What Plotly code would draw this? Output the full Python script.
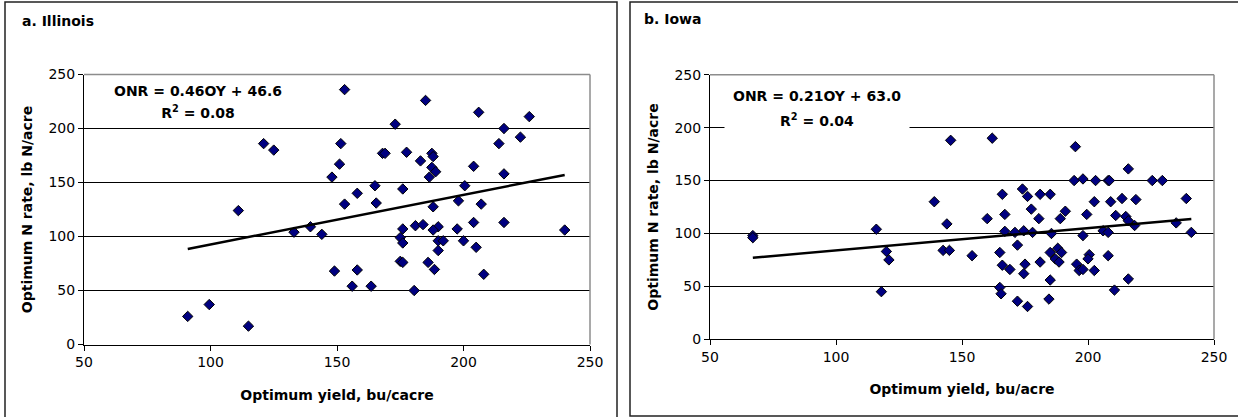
import plotly.graph_objects as go

# ---------------- data ----------------
IL_yield = [153, 121, 125, 151.5, 151, 148, 158, 153, 111, 133, 139.5, 144, 149, 158, 156, 91, 99.5, 115,
            185, 173, 206, 226, 216, 222.5, 214, 168, 169, 177.5, 187.5, 188, 183, 187.5, 189, 186.5, 204, 216,
            165, 176, 200.5, 165.5, 188, 198, 207, 176, 181, 184, 190, 188, 197.5, 204, 216, 240,
            175, 176, 190, 192, 190, 200, 205, 163.5, 175, 176, 186, 188.5, 180.5, 208]
IL_rate = [236, 186, 180, 186, 167, 155, 140, 130, 124, 104, 109, 102, 68, 69, 54, 26, 37, 17,
           226, 204, 215, 211, 200, 192, 186, 177, 177, 178, 177, 174, 170, 164, 160, 155, 165, 158,
           147, 144, 147, 131, 127.5, 133, 130, 107, 110, 111, 109, 106, 107, 113, 113, 106,
           99, 94, 96, 96, 87, 96, 90, 54, 77, 76, 76, 69.5, 50, 65]

IA_yield = [67, 67, 116, 120, 121, 118, 145.5, 139, 144, 142.5, 145, 162, 195, 216, 194.5, 198, 203, 208, 208.5, 225.5,
            229.5, 166, 174, 176, 181, 185, 202.5, 209, 213.5, 219, 239, 177.5, 167, 160, 180.5, 189, 191, 199.5, 211, 215,
            216, 218.5, 235, 241, 167, 171, 174.5, 178, 185.5, 198, 206, 208, 154, 165, 172, 166, 169, 175, 174.5, 181,
            185, 188, 189.5, 187, 188.5, 195.5, 196.5, 198, 200.5, 200, 202.5, 208, 185, 216, 165, 165.5, 172, 176, 184.5, 210.5]
IA_rate = [98, 96, 104, 83, 75, 45, 188, 130, 109, 84, 84, 190, 182, 161, 150, 151.5, 150, 150, 150, 150,
           150, 137, 142, 135, 137, 137, 130, 130, 133, 132, 133, 123, 118, 114, 114, 114, 121, 118, 117, 116,
           112, 107.5, 110, 101, 102, 101, 102.5, 101, 100, 98, 102.5, 101, 79, 82, 89, 70, 66, 71, 62, 73,
           82, 86, 82, 76, 73, 71, 65, 66, 80, 76, 65, 79, 56, 57, 49, 43, 36, 31, 38, 46.5]

IL_fit = (0.46, 46.6, 0.08)   # slope, intercept, R2
IA_fit = (0.21, 63.0, 0.04)

panel_titles = ["a. Illinois", "b. Iowa"]
x_titles = ["Optimum yield, bu/cacre", "Optimum yield, bu/acre"]
y_title = "Optimum N rate, lb N/acre"
tick_vals = [0, 50, 100, 150, 200, 250]
x_tick_vals = [50, 100, 150, 200, 250]

# ---------------- layout helpers ----------------
W, H = 1238, 417
FONT = "DejaVu Sans"


def fx(p):
    return p / W


def fy(p):
    return 1 - p / H


fig = go.Figure()

panels = [
    dict(xs="x", ys="y", data=(IL_yield, IL_rate), fit=IL_fit),
    dict(xs="x2", ys="y2", data=(IA_yield, IA_rate), fit=IA_fit),
]

for p in panels:
    xs, ys = p["data"]
    slope, icpt, r2 = p["fit"]
    fig.add_trace(go.Scatter(
        x=xs, y=ys, mode="markers", xaxis=p["xs"], yaxis=p["ys"],
        marker=dict(symbol="diamond", size=8, color="#000080", line=dict(color="black", width=1)),
        showlegend=False, hoverinfo="x+y"))
    x_line = [min(xs), max(xs)]
    y_line = [slope * v + icpt for v in x_line]
    fig.add_trace(go.Scatter(
        x=x_line, y=y_line, mode="lines", xaxis=p["xs"], yaxis=p["ys"],
        line=dict(color="black", width=2.5), showlegend=False, hoverinfo="skip"))

axis_common = dict(showline=True, linecolor="black", linewidth=1, ticks="outside", ticklen=5,
                   tickcolor="black", zeroline=False, automargin=False,
                   tickfont=dict(family=FONT, size=14, color="black"))

fig.update_layout(
    width=W, height=H, margin=dict(l=0, r=0, t=0, b=0, autoexpand=False),
    paper_bgcolor="white", plot_bgcolor="white",
    font=dict(family=FONT, color="black", size=14),
    xaxis=dict(domain=[fx(84), fx(590)], range=[50, 250], tickvals=x_tick_vals, showgrid=False,
               anchor="y",
               title=dict(text="<b>%s</b>" % x_titles[0], font=dict(family=FONT, size=14), standoff=20),
               **axis_common),
    yaxis=dict(domain=[fy(344.5), fy(74.5)], range=[0, 250], tickvals=tick_vals, showgrid=True,
               gridcolor="black", gridwidth=1, anchor="x",
               title=dict(text="<b>%s</b>" % y_title, font=dict(family=FONT, size=14), standoff=12),
               **axis_common),
    xaxis2=dict(domain=[fx(710), fx(1214)], range=[50, 250], tickvals=x_tick_vals, showgrid=False,
                anchor="y2",
                title=dict(text="<b>%s</b>" % x_titles[1], font=dict(family=FONT, size=14), standoff=20),
                **axis_common),
    yaxis2=dict(domain=[fy(339.3), fy(74.7)], range=[0, 250], tickvals=tick_vals, showgrid=True,
                gridcolor="black", gridwidth=1, anchor="x2",
                title=dict(text="<b>%s</b>" % y_title, font=dict(family=FONT, size=14), standoff=12),
                **axis_common),
)

shapes = []
# panel frames
shapes.append(dict(type="rect", xref="paper", yref="paper", x0=fx(5), x1=fx(617), y0=fy(420), y1=fy(2),
                   line=dict(color="#222222", width=1.5), fillcolor="rgba(0,0,0,0)", layer="below"))
shapes.append(dict(type="rect", xref="paper", yref="paper", x0=fx(630), x1=fx(1240), y0=fy(416), y1=fy(2),
                   line=dict(color="#222222", width=1.5), fillcolor="rgba(0,0,0,0)", layer="below"))
# gray plot-area border top and right
for xs_, ys_ in (("x", "y"), ("x2", "y2")):
    shapes.append(dict(type="line", xref=xs_ + " domain", yref=ys_ + " domain", x0=0, x1=1, y0=1, y1=1,
                       line=dict(color="#8c8c8c", width=1.5), layer="above"))
    shapes.append(dict(type="line", xref=xs_ + " domain", yref=ys_ + " domain", x0=1, x1=1, y0=0, y1=1,
                       line=dict(color="#8c8c8c", width=1.5), layer="above"))
fig.update_layout(shapes=shapes)

ann = []
ann.append(dict(text="<b>%s</b>" % panel_titles[0], xref="paper", yref="paper", x=fx(20), y=fy(21),
                xanchor="left", yanchor="middle", showarrow=False, font=dict(family=FONT, size=14)))
ann.append(dict(text="<b>%s</b>" % panel_titles[1], xref="paper", yref="paper", x=fx(642), y=fy(19),
                xanchor="left", yanchor="middle", showarrow=False, font=dict(family=FONT, size=14)))

eq_pos = [(197.5, 91, 112), (816.7, 96, 120.5)]
for (cx, y1, y2), fit in zip(eq_pos, (IL_fit, IA_fit)):
    slope, icpt, r2 = fit
    ann.append(dict(text="<b>ONR = %.2fOY + %.1f</b>" % (slope, icpt), xref="paper", yref="paper",
                    x=fx(cx), y=fy(y1), xanchor="center", yanchor="middle", showarrow=False,
                    bgcolor="white", font=dict(family=FONT, size=14)))
    ann.append(dict(text="<b>R<sup>2</sup> = %.2f</b>" % r2, xref="paper", yref="paper",
                    x=fx(cx), y=fy(y2), xanchor="center", yanchor="middle", showarrow=False,
                    bgcolor="white", width=180, borderpad=2, font=dict(family=FONT, size=14)))
fig.update_layout(annotations=ann)

fig.write_html(
    "out.html",
    config={"displayModeBar": False},
    post_script="document.body.style.margin='0';document.body.style.overflow='hidden';"
                "document.documentElement.style.overflow='hidden';",
)
